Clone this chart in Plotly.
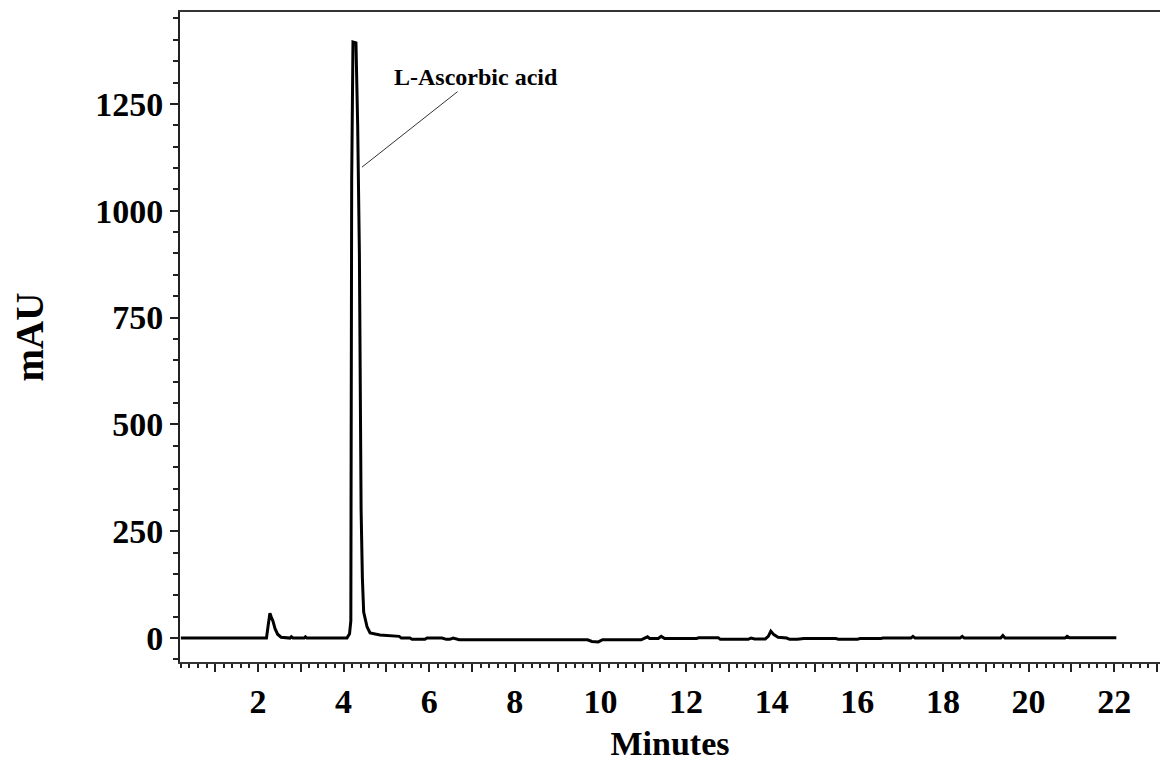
import plotly.graph_objects as go

# Chromatogram trace (retention time in minutes, absorbance in mAU)
time_min = [
    0.20, 2.20, 2.24, 2.28, 2.31, 2.35, 2.40, 2.46, 2.54, 2.75, 2.78, 2.82,
    3.08, 3.11, 3.14, 4.08, 4.14, 4.17, 4.19, 4.22, 4.29, 4.33, 4.37, 4.41,
    4.44, 4.47, 4.55, 4.62, 4.85, 5.30, 5.35, 5.55, 5.60, 5.90, 5.95, 6.30,
    6.40, 6.48, 6.56, 6.70, 9.70, 9.80, 9.95, 10.05, 10.95, 11.00, 11.10,
    11.15, 11.35, 11.42, 11.50, 12.25, 12.30, 12.75, 12.80, 13.45, 13.52,
    13.60, 13.85, 13.92, 13.98, 14.05, 14.15, 14.35, 14.42, 14.60, 14.68,
    14.75, 15.50, 15.56, 16.00, 16.06, 16.55, 16.60, 17.25, 17.30, 17.35,
    18.40, 18.45, 18.50, 19.35, 19.40, 19.45, 20.85, 20.90, 20.95, 22.05,
]
absorbance_mau = [
    0, 0, 30, 58, 50, 40, 22, 9, 2, 0, 3, 0,
    0, 3, 0, 0, 10, 40, 1070, 1395, 1393, 1200, 900, 300,
    140, 61, 26, 12, 7, 4, 0, 0, -3, -3, 0, 0,
    -3, -3, 0, -4, -4, -8, -9, -4, -4, -1, 3,
    -1, -1, 4, -1, -1, 1, 1, -3, -3, 0,
    -2, -2, 4, 16, 8, 2, 0, -3, -3, -1,
    -1, -1, -3, -3, -1, -1, 0, 0, 4, 0,
    0, 4, 0, 0, 6, 0, 0, 4, 1, 1,
]

x_tick_vals = list(range(1, 24))
x_tick_text = [str(v) if v % 2 == 0 else "" for v in x_tick_vals]
y_tick_vals = [0, 250, 500, 750, 1000, 1250]
y_tick_text = [str(v) for v in y_tick_vals]

peak_name = "L-Ascorbic acid"

serif = "Liberation Serif"

fig = go.Figure()
fig.add_trace(go.Scatter(
    x=time_min, y=absorbance_mau, mode="lines",
    line=dict(color="black", width=3),
    hoverinfo="skip", showlegend=False,
))

fig.add_annotation(
    x=4.43, y=1102, xref="x", yref="y",
    text=f"<b>{peak_name}</b>",
    showarrow=True, arrowhead=0, arrowwidth=1, arrowcolor="#333333",
    standoff=0, ax=114, ay=-90,
    font=dict(family=serif, size=24, color="black"),
)

fig.update_xaxes(
    range=[0.18, 23.07],
    tickmode="array", tickvals=x_tick_vals, ticktext=x_tick_text,
    ticks="outside", ticklen=8, tickwidth=2, tickcolor="#222222",
    minor=dict(dtick=0.2, tick0=0, ticks="outside", ticklen=4,
               tickwidth=1.5, tickcolor="#222222"),
    showline=True, linecolor="#333333", linewidth=2, mirror=True,
    showgrid=False, zeroline=False,
    tickfont=dict(family=serif, size=34, color="black", weight="bold"),
    title=dict(text="Minutes", standoff=12,
               font=dict(family=serif, size=34, color="black", weight="bold")),
)
fig.update_yaxes(
    range=[-56, 1465],
    tickmode="array", tickvals=y_tick_vals, ticktext=y_tick_text,
    ticks="outside", ticklen=8, tickwidth=2, tickcolor="#222222",
    minor=dict(dtick=50, tick0=0, ticks="outside", ticklen=5,
               tickwidth=1.5, tickcolor="#222222"),
    showline=True, linecolor="#222222", linewidth=2, mirror=False,
    showgrid=False, zeroline=False,
    tickfont=dict(family=serif, size=34, color="black", weight="bold"),
    title=dict(text="mAU", standoff=40,
               font=dict(family=serif, size=39, color="black", weight="bold")),
)

fig.update_layout(
    width=1160, height=763,
    margin=dict(l=180, r=0, t=12, b=101),
    paper_bgcolor="white", plot_bgcolor="white",
)

fig.write_html("out.html")
